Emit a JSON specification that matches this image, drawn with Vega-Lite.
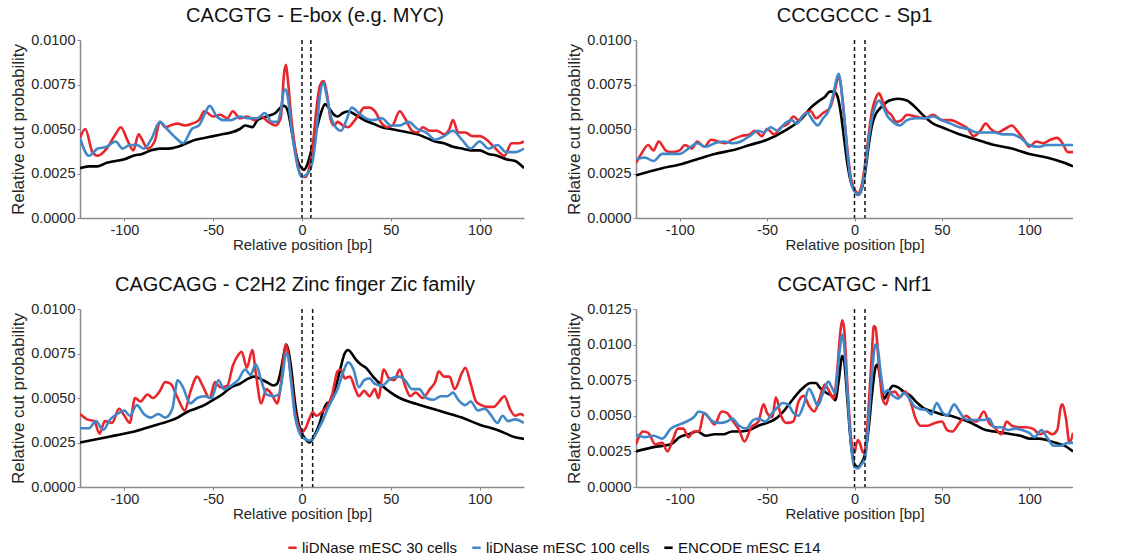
{
  "$schema": "https://vega.github.io/schema/vega-lite/v6.json",
  "background": "white",
  "padding": {"left": 9, "top": 6, "right": 0, "bottom": 0},
  "columns": 2,
  "spacing": {"row": 22, "column": 41},
  "config": {
    "font": "Liberation Sans",
    "locale": {"number": {"decimal": ".", "thousands": ",", "grouping": [3], "currency": ["$", ""], "minus": "-"}},
    "view": {"stroke": null},
    "axis": {
      "grid": false,
      "domainColor": "#8a8a8a",
      "domainWidth": 1.5,
      "tickColor": "#8a8a8a",
      "tickSize": 3,
      "labelFontSize": 14.5,
      "labelColor": "#262626",
      "labelPadding": 2,
      "titleFontSize": 15,
      "titleFontWeight": "normal",
      "titleColor": "#262626"
    },
    "title": {"fontSize": 20, "fontWeight": "normal", "color": "#111111", "offset": 6, "frame": "group"},
    "line": {"strokeWidth": 2.6, "interpolate": "monotone"}
  },
  "datasets": {
    "series": [
      {"k": "r", "sample": "liDNase mESC 30 cells"},
      {"k": "b", "sample": "liDNase mESC 100 cells"},
      {"k": "k", "sample": "ENCODE mESC E14"}
    ],
    "cacgtg": [
      {"k":"k","x":-125,"y":0.0028},{"k":"k","x":-120,"y":0.0029},{"k":"k","x":-115,"y":0.0029},{"k":"k","x":-110,"y":0.0031},{"k":"k","x":-105,"y":0.0032},{"k":"k","x":-100,"y":0.0033},{"k":"k","x":-95,"y":0.0035},{"k":"k","x":-90,"y":0.0036},{"k":"k","x":-85,"y":0.0038},{"k":"k","x":-80,"y":0.0039},{"k":"k","x":-75,"y":0.0039},{"k":"k","x":-70,"y":0.0040},{"k":"k","x":-65,"y":0.0042},{"k":"k","x":-60,"y":0.0044},{"k":"k","x":-55,"y":0.0045},{"k":"k","x":-50,"y":0.0046},{"k":"k","x":-45,"y":0.0047},{"k":"k","x":-40,"y":0.0048},{"k":"k","x":-35,"y":0.0050},{"k":"k","x":-32,"y":0.0052},{"k":"k","x":-28,"y":0.0051},{"k":"k","x":-25,"y":0.0055},{"k":"k","x":-20,"y":0.0057},{"k":"k","x":-15,"y":0.0059},{"k":"k","x":-12,"y":0.0062},{"k":"k","x":-10,"y":0.0063},{"k":"k","x":-8,"y":0.0060},{"k":"k","x":-6,"y":0.0050},{"k":"k","x":-4,"y":0.0039},{"k":"k","x":-2,"y":0.0031},{"k":"k","x":0,"y":0.0028},{"k":"k","x":1,"y":0.0027},{"k":"k","x":3,"y":0.0030},{"k":"k","x":5,"y":0.0037},{"k":"k","x":7,"y":0.0045},{"k":"k","x":9,"y":0.0053},{"k":"k","x":11,"y":0.0060},{"k":"k","x":13,"y":0.0064},{"k":"k","x":15,"y":0.0062},{"k":"k","x":18,"y":0.0058},{"k":"k","x":20,"y":0.0057},{"k":"k","x":23,"y":0.0059},{"k":"k","x":26,"y":0.0060},{"k":"k","x":30,"y":0.0058},{"k":"k","x":35,"y":0.0055},{"k":"k","x":40,"y":0.0053},{"k":"k","x":45,"y":0.0051},{"k":"k","x":50,"y":0.0050},{"k":"k","x":55,"y":0.0049},{"k":"k","x":60,"y":0.0048},{"k":"k","x":65,"y":0.0047},{"k":"k","x":70,"y":0.0045},{"k":"k","x":75,"y":0.0043},{"k":"k","x":80,"y":0.0042},{"k":"k","x":85,"y":0.0040},{"k":"k","x":90,"y":0.0039},{"k":"k","x":95,"y":0.0038},{"k":"k","x":100,"y":0.0038},{"k":"k","x":105,"y":0.0036},{"k":"k","x":110,"y":0.0035},{"k":"k","x":115,"y":0.0033},{"k":"k","x":120,"y":0.0032},{"k":"k","x":125,"y":0.0028},
      {"k":"r","x":-125,"y":0.0045},{"k":"r","x":-122,"y":0.0050},{"k":"r","x":-118,"y":0.0037},{"k":"r","x":-115,"y":0.0035},{"k":"r","x":-110,"y":0.0039},{"k":"r","x":-105,"y":0.0047},{"k":"r","x":-102,"y":0.0051},{"k":"r","x":-98,"y":0.0043},{"k":"r","x":-95,"y":0.0038},{"k":"r","x":-92,"y":0.0047},{"k":"r","x":-90,"y":0.0044},{"k":"r","x":-87,"y":0.0039},{"k":"r","x":-83,"y":0.0043},{"k":"r","x":-80,"y":0.0054},{"k":"r","x":-77,"y":0.0051},{"k":"r","x":-74,"y":0.0052},{"k":"r","x":-70,"y":0.0053},{"k":"r","x":-66,"y":0.0052},{"k":"r","x":-62,"y":0.0053},{"k":"r","x":-58,"y":0.0055},{"k":"r","x":-55,"y":0.0060},{"k":"r","x":-50,"y":0.0057},{"k":"r","x":-46,"y":0.0058},{"k":"r","x":-42,"y":0.0056},{"k":"r","x":-39,"y":0.0060},{"k":"r","x":-35,"y":0.0056},{"k":"r","x":-31,"y":0.0057},{"k":"r","x":-27,"y":0.0055},{"k":"r","x":-23,"y":0.0057},{"k":"r","x":-19,"y":0.0054},{"k":"r","x":-15,"y":0.0052},{"k":"r","x":-12,"y":0.0056},{"k":"r","x":-10,"y":0.0082},{"k":"r","x":-9,"y":0.0086},{"k":"r","x":-8,"y":0.0078},{"k":"r","x":-6,"y":0.0056},{"k":"r","x":-4,"y":0.0040},{"k":"r","x":-2,"y":0.0028},{"k":"r","x":0,"y":0.0023},{"k":"r","x":2,"y":0.0023},{"k":"r","x":4,"y":0.0028},{"k":"r","x":6,"y":0.0040},{"k":"r","x":8,"y":0.0060},{"k":"r","x":10,"y":0.0074},{"k":"r","x":12,"y":0.0077},{"k":"r","x":14,"y":0.0070},{"k":"r","x":16,"y":0.0056},{"k":"r","x":18,"y":0.0052},{"k":"r","x":20,"y":0.0054},{"k":"r","x":23,"y":0.0052},{"k":"r","x":26,"y":0.0051},{"k":"r","x":29,"y":0.0054},{"k":"r","x":32,"y":0.0058},{"k":"r","x":35,"y":0.0062},{"k":"r","x":38,"y":0.0062},{"k":"r","x":41,"y":0.0060},{"k":"r","x":45,"y":0.0053},{"k":"r","x":48,"y":0.0051},{"k":"r","x":51,"y":0.0052},{"k":"r","x":55,"y":0.0060},{"k":"r","x":58,"y":0.0056},{"k":"r","x":62,"y":0.0049},{"k":"r","x":65,"y":0.0048},{"k":"r","x":68,"y":0.0051},{"k":"r","x":72,"y":0.0049},{"k":"r","x":76,"y":0.0049},{"k":"r","x":80,"y":0.0047},{"k":"r","x":83,"y":0.0050},{"k":"r","x":85,"y":0.0055},{"k":"r","x":88,"y":0.0048},{"k":"r","x":92,"y":0.0048},{"k":"r","x":96,"y":0.0046},{"k":"r","x":100,"y":0.0046},{"k":"r","x":104,"y":0.0044},{"k":"r","x":108,"y":0.0040},{"k":"r","x":111,"y":0.0037},{"k":"r","x":114,"y":0.0035},{"k":"r","x":118,"y":0.0042},{"k":"r","x":122,"y":0.0042},{"k":"r","x":125,"y":0.0043},
      {"k":"b","x":-125,"y":0.0045},{"k":"b","x":-120,"y":0.0035},{"k":"b","x":-115,"y":0.0039},{"k":"b","x":-110,"y":0.0040},{"k":"b","x":-105,"y":0.0043},{"k":"b","x":-101,"y":0.0039},{"k":"b","x":-97,"y":0.0041},{"k":"b","x":-93,"y":0.0041},{"k":"b","x":-89,"y":0.0039},{"k":"b","x":-85,"y":0.0044},{"k":"b","x":-80,"y":0.0054},{"k":"b","x":-76,"y":0.0050},{"k":"b","x":-71,"y":0.0045},{"k":"b","x":-67,"y":0.0042},{"k":"b","x":-62,"y":0.0050},{"k":"b","x":-58,"y":0.0052},{"k":"b","x":-55,"y":0.0058},{"k":"b","x":-52,"y":0.0063},{"k":"b","x":-48,"y":0.0057},{"k":"b","x":-44,"y":0.0055},{"k":"b","x":-40,"y":0.0055},{"k":"b","x":-35,"y":0.0057},{"k":"b","x":-30,"y":0.0056},{"k":"b","x":-25,"y":0.0056},{"k":"b","x":-21,"y":0.0059},{"k":"b","x":-17,"y":0.0054},{"k":"b","x":-14,"y":0.0054},{"k":"b","x":-12,"y":0.0060},{"k":"b","x":-10,"y":0.0072},{"k":"b","x":-9,"y":0.0072},{"k":"b","x":-8,"y":0.0068},{"k":"b","x":-6,"y":0.0051},{"k":"b","x":-4,"y":0.0037},{"k":"b","x":-2,"y":0.0027},{"k":"b","x":0,"y":0.0023},{"k":"b","x":2,"y":0.0024},{"k":"b","x":4,"y":0.0026},{"k":"b","x":6,"y":0.0032},{"k":"b","x":8,"y":0.0047},{"k":"b","x":10,"y":0.0068},{"k":"b","x":12,"y":0.0076},{"k":"b","x":14,"y":0.0068},{"k":"b","x":16,"y":0.0058},{"k":"b","x":19,"y":0.0051},{"k":"b","x":22,"y":0.0049},{"k":"b","x":25,"y":0.0055},{"k":"b","x":28,"y":0.0062},{"k":"b","x":32,"y":0.0059},{"k":"b","x":36,"y":0.0056},{"k":"b","x":40,"y":0.0055},{"k":"b","x":45,"y":0.0056},{"k":"b","x":50,"y":0.0052},{"k":"b","x":55,"y":0.0052},{"k":"b","x":60,"y":0.0054},{"k":"b","x":65,"y":0.0050},{"k":"b","x":70,"y":0.0048},{"k":"b","x":75,"y":0.0044},{"k":"b","x":80,"y":0.0046},{"k":"b","x":85,"y":0.0049},{"k":"b","x":90,"y":0.0044},{"k":"b","x":95,"y":0.0039},{"k":"b","x":100,"y":0.0043},{"k":"b","x":105,"y":0.0039},{"k":"b","x":110,"y":0.0041},{"k":"b","x":115,"y":0.0037},{"k":"b","x":120,"y":0.0037},{"k":"b","x":125,"y":0.0039}
    ],
    "cccgccc": [
      {"k":"k","x":-125,"y":0.0024},{"k":"k","x":-110,"y":0.0028},{"k":"k","x":-100,"y":0.0030},{"k":"k","x":-90,"y":0.0033},{"k":"k","x":-80,"y":0.0036},{"k":"k","x":-70,"y":0.0038},{"k":"k","x":-60,"y":0.0041},{"k":"k","x":-50,"y":0.0044},{"k":"k","x":-40,"y":0.0049},{"k":"k","x":-30,"y":0.0056},{"k":"k","x":-25,"y":0.0062},{"k":"k","x":-20,"y":0.0066},{"k":"k","x":-17,"y":0.0068},{"k":"k","x":-14,"y":0.0071},{"k":"k","x":-12,"y":0.0071},{"k":"k","x":-10,"y":0.0069},{"k":"k","x":-8,"y":0.0060},{"k":"k","x":-6,"y":0.0045},{"k":"k","x":-4,"y":0.0030},{"k":"k","x":-2,"y":0.0020},{"k":"k","x":0,"y":0.0016},{"k":"k","x":2,"y":0.0013},{"k":"k","x":4,"y":0.0016},{"k":"k","x":6,"y":0.0025},{"k":"k","x":8,"y":0.0040},{"k":"k","x":10,"y":0.0052},{"k":"k","x":12,"y":0.0058},{"k":"k","x":15,"y":0.0062},{"k":"k","x":20,"y":0.0066},{"k":"k","x":25,"y":0.0067},{"k":"k","x":30,"y":0.0066},{"k":"k","x":35,"y":0.0062},{"k":"k","x":40,"y":0.0057},{"k":"k","x":45,"y":0.0053},{"k":"k","x":50,"y":0.0051},{"k":"k","x":60,"y":0.0047},{"k":"k","x":70,"y":0.0044},{"k":"k","x":80,"y":0.0041},{"k":"k","x":90,"y":0.0039},{"k":"k","x":100,"y":0.0036},{"k":"k","x":110,"y":0.0034},{"k":"k","x":120,"y":0.0031},{"k":"k","x":125,"y":0.0029},
      {"k":"r","x":-125,"y":0.0031},{"k":"r","x":-122,"y":0.0036},{"k":"r","x":-118,"y":0.0041},{"k":"r","x":-115,"y":0.0038},{"k":"r","x":-112,"y":0.0043},{"k":"r","x":-108,"y":0.0038},{"k":"r","x":-105,"y":0.0037},{"k":"r","x":-100,"y":0.0038},{"k":"r","x":-97,"y":0.0041},{"k":"r","x":-93,"y":0.0039},{"k":"r","x":-90,"y":0.0043},{"k":"r","x":-86,"y":0.0040},{"k":"r","x":-82,"y":0.0044},{"k":"r","x":-78,"y":0.0043},{"k":"r","x":-74,"y":0.0042},{"k":"r","x":-70,"y":0.0044},{"k":"r","x":-65,"y":0.0046},{"k":"r","x":-60,"y":0.0047},{"k":"r","x":-57,"y":0.0049},{"k":"r","x":-53,"y":0.0046},{"k":"r","x":-50,"y":0.0050},{"k":"r","x":-46,"y":0.0047},{"k":"r","x":-42,"y":0.0051},{"k":"r","x":-38,"y":0.0053},{"k":"r","x":-35,"y":0.0057},{"k":"r","x":-32,"y":0.0055},{"k":"r","x":-28,"y":0.0059},{"k":"r","x":-25,"y":0.0060},{"k":"r","x":-22,"y":0.0056},{"k":"r","x":-18,"y":0.0059},{"k":"r","x":-14,"y":0.0062},{"k":"r","x":-12,"y":0.0068},{"k":"r","x":-10,"y":0.0077},{"k":"r","x":-9,"y":0.0080},{"k":"r","x":-8,"y":0.0076},{"k":"r","x":-6,"y":0.0058},{"k":"r","x":-4,"y":0.0038},{"k":"r","x":-2,"y":0.0022},{"k":"r","x":0,"y":0.0016},{"k":"r","x":2,"y":0.0014},{"k":"r","x":4,"y":0.0018},{"k":"r","x":6,"y":0.0030},{"k":"r","x":8,"y":0.0046},{"k":"r","x":10,"y":0.0060},{"k":"r","x":12,"y":0.0067},{"k":"r","x":14,"y":0.0070},{"k":"r","x":16,"y":0.0066},{"k":"r","x":18,"y":0.0061},{"k":"r","x":21,"y":0.0058},{"k":"r","x":24,"y":0.0054},{"k":"r","x":27,"y":0.0055},{"k":"r","x":30,"y":0.0058},{"k":"r","x":35,"y":0.0057},{"k":"r","x":40,"y":0.0056},{"k":"r","x":45,"y":0.0058},{"k":"r","x":50,"y":0.0055},{"k":"r","x":55,"y":0.0055},{"k":"r","x":60,"y":0.0053},{"k":"r","x":65,"y":0.0050},{"k":"r","x":68,"y":0.0046},{"k":"r","x":72,"y":0.0049},{"k":"r","x":75,"y":0.0053},{"k":"r","x":78,"y":0.0050},{"k":"r","x":82,"y":0.0048},{"k":"r","x":86,"y":0.0050},{"k":"r","x":90,"y":0.0052},{"k":"r","x":93,"y":0.0049},{"k":"r","x":97,"y":0.0044},{"k":"r","x":100,"y":0.0040},{"k":"r","x":104,"y":0.0043},{"k":"r","x":108,"y":0.0042},{"k":"r","x":112,"y":0.0044},{"k":"r","x":116,"y":0.0045},{"k":"r","x":119,"y":0.0042},{"k":"r","x":122,"y":0.0037},{"k":"r","x":125,"y":0.0037},
      {"k":"b","x":-125,"y":0.0033},{"k":"b","x":-120,"y":0.0034},{"k":"b","x":-115,"y":0.0032},{"k":"b","x":-110,"y":0.0036},{"k":"b","x":-105,"y":0.0036},{"k":"b","x":-100,"y":0.0036},{"k":"b","x":-95,"y":0.0039},{"k":"b","x":-90,"y":0.0042},{"k":"b","x":-85,"y":0.0040},{"k":"b","x":-80,"y":0.0042},{"k":"b","x":-75,"y":0.0043},{"k":"b","x":-70,"y":0.0042},{"k":"b","x":-65,"y":0.0043},{"k":"b","x":-60,"y":0.0046},{"k":"b","x":-55,"y":0.0049},{"k":"b","x":-52,"y":0.0048},{"k":"b","x":-48,"y":0.0051},{"k":"b","x":-44,"y":0.0049},{"k":"b","x":-40,"y":0.0053},{"k":"b","x":-36,"y":0.0055},{"k":"b","x":-33,"y":0.0053},{"k":"b","x":-30,"y":0.0057},{"k":"b","x":-27,"y":0.0059},{"k":"b","x":-24,"y":0.0055},{"k":"b","x":-21,"y":0.0052},{"k":"b","x":-18,"y":0.0056},{"k":"b","x":-15,"y":0.0060},{"k":"b","x":-12,"y":0.0070},{"k":"b","x":-10,"y":0.0079},{"k":"b","x":-9,"y":0.0081},{"k":"b","x":-8,"y":0.0076},{"k":"b","x":-6,"y":0.0058},{"k":"b","x":-4,"y":0.0036},{"k":"b","x":-2,"y":0.0020},{"k":"b","x":0,"y":0.0015},{"k":"b","x":2,"y":0.0013},{"k":"b","x":4,"y":0.0016},{"k":"b","x":6,"y":0.0027},{"k":"b","x":8,"y":0.0043},{"k":"b","x":10,"y":0.0056},{"k":"b","x":12,"y":0.0063},{"k":"b","x":14,"y":0.0066},{"k":"b","x":16,"y":0.0063},{"k":"b","x":19,"y":0.0057},{"k":"b","x":22,"y":0.0054},{"k":"b","x":26,"y":0.0052},{"k":"b","x":30,"y":0.0055},{"k":"b","x":35,"y":0.0056},{"k":"b","x":40,"y":0.0056},{"k":"b","x":45,"y":0.0057},{"k":"b","x":50,"y":0.0055},{"k":"b","x":55,"y":0.0053},{"k":"b","x":60,"y":0.0051},{"k":"b","x":65,"y":0.0050},{"k":"b","x":70,"y":0.0048},{"k":"b","x":75,"y":0.0048},{"k":"b","x":80,"y":0.0048},{"k":"b","x":85,"y":0.0047},{"k":"b","x":90,"y":0.0047},{"k":"b","x":95,"y":0.0045},{"k":"b","x":100,"y":0.0041},{"k":"b","x":105,"y":0.0040},{"k":"b","x":110,"y":0.0041},{"k":"b","x":115,"y":0.0041},{"k":"b","x":120,"y":0.0041},{"k":"b","x":125,"y":0.0041}
    ],
    "cagcagg": [
      {"k":"k","x":-125,"y":0.0025},{"k":"k","x":-115,"y":0.0027},{"k":"k","x":-105,"y":0.0029},{"k":"k","x":-95,"y":0.0031},{"k":"k","x":-85,"y":0.0034},{"k":"k","x":-75,"y":0.0037},{"k":"k","x":-70,"y":0.0039},{"k":"k","x":-65,"y":0.0042},{"k":"k","x":-60,"y":0.0044},{"k":"k","x":-55,"y":0.0046},{"k":"k","x":-50,"y":0.0049},{"k":"k","x":-45,"y":0.0052},{"k":"k","x":-40,"y":0.0056},{"k":"k","x":-35,"y":0.0058},{"k":"k","x":-30,"y":0.0061},{"k":"k","x":-27,"y":0.0062},{"k":"k","x":-24,"y":0.0061},{"k":"k","x":-20,"y":0.0059},{"k":"k","x":-16,"y":0.0057},{"k":"k","x":-14,"y":0.0058},{"k":"k","x":-12,"y":0.0065},{"k":"k","x":-10,"y":0.0076},{"k":"k","x":-9,"y":0.0080},{"k":"k","x":-8,"y":0.0078},{"k":"k","x":-6,"y":0.0066},{"k":"k","x":-4,"y":0.0048},{"k":"k","x":-2,"y":0.0036},{"k":"k","x":0,"y":0.0030},{"k":"k","x":2,"y":0.0027},{"k":"k","x":4,"y":0.0025},{"k":"k","x":6,"y":0.0027},{"k":"k","x":8,"y":0.0031},{"k":"k","x":10,"y":0.0036},{"k":"k","x":12,"y":0.0043},{"k":"k","x":14,"y":0.0047},{"k":"k","x":16,"y":0.0048},{"k":"k","x":18,"y":0.0053},{"k":"k","x":20,"y":0.0060},{"k":"k","x":22,"y":0.0068},{"k":"k","x":24,"y":0.0075},{"k":"k","x":26,"y":0.0077},{"k":"k","x":28,"y":0.0075},{"k":"k","x":30,"y":0.0072},{"k":"k","x":33,"y":0.0069},{"k":"k","x":36,"y":0.0067},{"k":"k","x":40,"y":0.0062},{"k":"k","x":45,"y":0.0057},{"k":"k","x":50,"y":0.0053},{"k":"k","x":55,"y":0.0050},{"k":"k","x":60,"y":0.0048},{"k":"k","x":70,"y":0.0045},{"k":"k","x":80,"y":0.0042},{"k":"k","x":90,"y":0.0039},{"k":"k","x":100,"y":0.0035},{"k":"k","x":110,"y":0.0032},{"k":"k","x":120,"y":0.0028},{"k":"k","x":125,"y":0.0027},
      {"k":"r","x":-125,"y":0.0041},{"k":"r","x":-121,"y":0.0038},{"k":"r","x":-117,"y":0.0037},{"k":"r","x":-114,"y":0.0030},{"k":"r","x":-111,"y":0.0037},{"k":"r","x":-107,"y":0.0036},{"k":"r","x":-103,"y":0.0044},{"k":"r","x":-100,"y":0.0040},{"k":"r","x":-97,"y":0.0036},{"k":"r","x":-94,"y":0.0050},{"k":"r","x":-91,"y":0.0048},{"k":"r","x":-87,"y":0.0052},{"k":"r","x":-84,"y":0.0050},{"k":"r","x":-80,"y":0.0054},{"k":"r","x":-77,"y":0.0059},{"k":"r","x":-74,"y":0.0058},{"k":"r","x":-70,"y":0.0050},{"k":"r","x":-66,"y":0.0043},{"k":"r","x":-63,"y":0.0053},{"k":"r","x":-59,"y":0.0062},{"k":"r","x":-56,"y":0.0057},{"k":"r","x":-52,"y":0.0050},{"k":"r","x":-49,"y":0.0059},{"k":"r","x":-46,"y":0.0056},{"k":"r","x":-42,"y":0.0057},{"k":"r","x":-39,"y":0.0068},{"k":"r","x":-36,"y":0.0074},{"k":"r","x":-34,"y":0.0076},{"k":"r","x":-31,"y":0.0067},{"k":"r","x":-28,"y":0.0077},{"k":"r","x":-26,"y":0.0064},{"k":"r","x":-23,"y":0.0047},{"k":"r","x":-20,"y":0.0055},{"k":"r","x":-17,"y":0.0052},{"k":"r","x":-14,"y":0.0047},{"k":"r","x":-12,"y":0.0057},{"k":"r","x":-10,"y":0.0075},{"k":"r","x":-9,"y":0.0080},{"k":"r","x":-8,"y":0.0076},{"k":"r","x":-6,"y":0.0060},{"k":"r","x":-4,"y":0.0043},{"k":"r","x":-2,"y":0.0034},{"k":"r","x":0,"y":0.0031},{"k":"r","x":2,"y":0.0033},{"k":"r","x":4,"y":0.0038},{"k":"r","x":6,"y":0.0042},{"k":"r","x":8,"y":0.0040},{"k":"r","x":10,"y":0.0041},{"k":"r","x":12,"y":0.0043},{"k":"r","x":14,"y":0.0045},{"k":"r","x":17,"y":0.0052},{"k":"r","x":20,"y":0.0065},{"k":"r","x":22,"y":0.0066},{"k":"r","x":24,"y":0.0061},{"k":"r","x":27,"y":0.0062},{"k":"r","x":30,"y":0.0055},{"k":"r","x":32,"y":0.0051},{"k":"r","x":35,"y":0.0054},{"k":"r","x":38,"y":0.0051},{"k":"r","x":41,"y":0.0055},{"k":"r","x":43,"y":0.0050},{"k":"r","x":46,"y":0.0066},{"k":"r","x":49,"y":0.0061},{"k":"r","x":52,"y":0.0060},{"k":"r","x":55,"y":0.0066},{"k":"r","x":58,"y":0.0057},{"k":"r","x":61,"y":0.0051},{"k":"r","x":64,"y":0.0053},{"k":"r","x":68,"y":0.0050},{"k":"r","x":72,"y":0.0055},{"k":"r","x":75,"y":0.0059},{"k":"r","x":77,"y":0.0065},{"k":"r","x":80,"y":0.0062},{"k":"r","x":83,"y":0.0062},{"k":"r","x":86,"y":0.0055},{"k":"r","x":90,"y":0.0064},{"k":"r","x":92,"y":0.0067},{"k":"r","x":95,"y":0.0058},{"k":"r","x":98,"y":0.0048},{"k":"r","x":101,"y":0.0046},{"k":"r","x":104,"y":0.0045},{"k":"r","x":108,"y":0.0045},{"k":"r","x":111,"y":0.0048},{"k":"r","x":114,"y":0.0051},{"k":"r","x":117,"y":0.0044},{"k":"r","x":120,"y":0.0040},{"k":"r","x":123,"y":0.0041},{"k":"r","x":125,"y":0.0040},
      {"k":"b","x":-125,"y":0.0033},{"k":"b","x":-120,"y":0.0033},{"k":"b","x":-116,"y":0.0037},{"k":"b","x":-112,"y":0.0032},{"k":"b","x":-108,"y":0.0038},{"k":"b","x":-104,"y":0.0041},{"k":"b","x":-100,"y":0.0043},{"k":"b","x":-97,"y":0.0040},{"k":"b","x":-93,"y":0.0046},{"k":"b","x":-89,"y":0.0041},{"k":"b","x":-85,"y":0.0039},{"k":"b","x":-81,"y":0.0041},{"k":"b","x":-77,"y":0.0039},{"k":"b","x":-73,"y":0.0044},{"k":"b","x":-70,"y":0.0060},{"k":"b","x":-67,"y":0.0056},{"k":"b","x":-63,"y":0.0047},{"k":"b","x":-59,"y":0.0050},{"k":"b","x":-55,"y":0.0051},{"k":"b","x":-51,"y":0.0050},{"k":"b","x":-47,"y":0.0060},{"k":"b","x":-44,"y":0.0055},{"k":"b","x":-40,"y":0.0057},{"k":"b","x":-36,"y":0.0060},{"k":"b","x":-32,"y":0.0066},{"k":"b","x":-29,"y":0.0063},{"k":"b","x":-26,"y":0.0069},{"k":"b","x":-23,"y":0.0060},{"k":"b","x":-20,"y":0.0052},{"k":"b","x":-16,"y":0.0051},{"k":"b","x":-13,"y":0.0052},{"k":"b","x":-11,"y":0.0062},{"k":"b","x":-9,"y":0.0075},{"k":"b","x":-8,"y":0.0074},{"k":"b","x":-6,"y":0.0058},{"k":"b","x":-4,"y":0.0040},{"k":"b","x":-2,"y":0.0032},{"k":"b","x":0,"y":0.0028},{"k":"b","x":2,"y":0.0027},{"k":"b","x":4,"y":0.0026},{"k":"b","x":6,"y":0.0027},{"k":"b","x":8,"y":0.0030},{"k":"b","x":10,"y":0.0034},{"k":"b","x":12,"y":0.0038},{"k":"b","x":14,"y":0.0043},{"k":"b","x":17,"y":0.0049},{"k":"b","x":20,"y":0.0055},{"k":"b","x":23,"y":0.0064},{"k":"b","x":26,"y":0.0070},{"k":"b","x":29,"y":0.0066},{"k":"b","x":32,"y":0.0056},{"k":"b","x":35,"y":0.0060},{"k":"b","x":38,"y":0.0061},{"k":"b","x":41,"y":0.0058},{"k":"b","x":45,"y":0.0057},{"k":"b","x":50,"y":0.0061},{"k":"b","x":55,"y":0.0062},{"k":"b","x":58,"y":0.0060},{"k":"b","x":62,"y":0.0055},{"k":"b","x":66,"y":0.0055},{"k":"b","x":70,"y":0.0050},{"k":"b","x":74,"y":0.0049},{"k":"b","x":78,"y":0.0051},{"k":"b","x":82,"y":0.0051},{"k":"b","x":85,"y":0.0053},{"k":"b","x":88,"y":0.0049},{"k":"b","x":92,"y":0.0046},{"k":"b","x":95,"y":0.0048},{"k":"b","x":99,"y":0.0043},{"k":"b","x":103,"y":0.0044},{"k":"b","x":106,"y":0.0041},{"k":"b","x":110,"y":0.0036},{"k":"b","x":113,"y":0.0040},{"k":"b","x":116,"y":0.0037},{"k":"b","x":120,"y":0.0038},{"k":"b","x":125,"y":0.0036}
    ],
    "cgcatgc": [
      {"k":"k","x":-125,"y":0.0025},{"k":"k","x":-115,"y":0.0028},{"k":"k","x":-105,"y":0.0030},{"k":"k","x":-100,"y":0.0035},{"k":"k","x":-95,"y":0.0037},{"k":"k","x":-90,"y":0.0039},{"k":"k","x":-85,"y":0.0036},{"k":"k","x":-80,"y":0.0037},{"k":"k","x":-75,"y":0.0037},{"k":"k","x":-70,"y":0.0039},{"k":"k","x":-65,"y":0.0039},{"k":"k","x":-60,"y":0.0040},{"k":"k","x":-55,"y":0.0043},{"k":"k","x":-50,"y":0.0045},{"k":"k","x":-45,"y":0.0048},{"k":"k","x":-40,"y":0.0054},{"k":"k","x":-35,"y":0.0062},{"k":"k","x":-30,"y":0.0069},{"k":"k","x":-25,"y":0.0073},{"k":"k","x":-22,"y":0.0073},{"k":"k","x":-20,"y":0.0070},{"k":"k","x":-16,"y":0.0066},{"k":"k","x":-13,"y":0.0064},{"k":"k","x":-11,"y":0.0061},{"k":"k","x":-9,"y":0.0075},{"k":"k","x":-7,"y":0.0092},{"k":"k","x":-6,"y":0.0089},{"k":"k","x":-4,"y":0.0060},{"k":"k","x":-2,"y":0.0030},{"k":"k","x":0,"y":0.0016},{"k":"k","x":2,"y":0.0014},{"k":"k","x":4,"y":0.0017},{"k":"k","x":6,"y":0.0023},{"k":"k","x":8,"y":0.0040},{"k":"k","x":10,"y":0.0065},{"k":"k","x":12,"y":0.0084},{"k":"k","x":13,"y":0.0086},{"k":"k","x":15,"y":0.0075},{"k":"k","x":17,"y":0.0062},{"k":"k","x":19,"y":0.0066},{"k":"k","x":22,"y":0.0071},{"k":"k","x":25,"y":0.0070},{"k":"k","x":28,"y":0.0067},{"k":"k","x":32,"y":0.0064},{"k":"k","x":36,"y":0.0059},{"k":"k","x":40,"y":0.0055},{"k":"k","x":45,"y":0.0053},{"k":"k","x":50,"y":0.0051},{"k":"k","x":55,"y":0.0050},{"k":"k","x":60,"y":0.0048},{"k":"k","x":65,"y":0.0046},{"k":"k","x":70,"y":0.0043},{"k":"k","x":75,"y":0.0040},{"k":"k","x":80,"y":0.0039},{"k":"k","x":85,"y":0.0038},{"k":"k","x":90,"y":0.0037},{"k":"k","x":95,"y":0.0036},{"k":"k","x":100,"y":0.0034},{"k":"k","x":105,"y":0.0034},{"k":"k","x":110,"y":0.0033},{"k":"k","x":115,"y":0.0031},{"k":"k","x":120,"y":0.0029},{"k":"k","x":125,"y":0.0025},
      {"k":"r","x":-125,"y":0.0030},{"k":"r","x":-121,"y":0.0039},{"k":"r","x":-118,"y":0.0038},{"k":"r","x":-114,"y":0.0030},{"k":"r","x":-110,"y":0.0031},{"k":"r","x":-107,"y":0.0025},{"k":"r","x":-104,"y":0.0033},{"k":"r","x":-101,"y":0.0041},{"k":"r","x":-98,"y":0.0041},{"k":"r","x":-95,"y":0.0035},{"k":"r","x":-92,"y":0.0039},{"k":"r","x":-89,"y":0.0039},{"k":"r","x":-86,"y":0.0052},{"k":"r","x":-83,"y":0.0048},{"k":"r","x":-80,"y":0.0044},{"k":"r","x":-76,"y":0.0053},{"k":"r","x":-73,"y":0.0052},{"k":"r","x":-70,"y":0.0047},{"k":"r","x":-66,"y":0.0040},{"k":"r","x":-63,"y":0.0032},{"k":"r","x":-59,"y":0.0042},{"k":"r","x":-55,"y":0.0046},{"k":"r","x":-52,"y":0.0058},{"k":"r","x":-50,"y":0.0052},{"k":"r","x":-47,"y":0.0049},{"k":"r","x":-45,"y":0.0063},{"k":"r","x":-42,"y":0.0050},{"k":"r","x":-39,"y":0.0045},{"k":"r","x":-35,"y":0.0046},{"k":"r","x":-32,"y":0.0060},{"k":"r","x":-29,"y":0.0064},{"k":"r","x":-26,"y":0.0057},{"k":"r","x":-23,"y":0.0053},{"k":"r","x":-20,"y":0.0062},{"k":"r","x":-17,"y":0.0072},{"k":"r","x":-14,"y":0.0066},{"k":"r","x":-12,"y":0.0062},{"k":"r","x":-10,"y":0.0080},{"k":"r","x":-8,"y":0.0110},{"k":"r","x":-7,"y":0.0117},{"k":"r","x":-6,"y":0.0112},{"k":"r","x":-4,"y":0.0070},{"k":"r","x":-2,"y":0.0035},{"k":"r","x":0,"y":0.0024},{"k":"r","x":1,"y":0.0030},{"k":"r","x":2,"y":0.0033},{"k":"r","x":3,"y":0.0031},{"k":"r","x":5,"y":0.0024},{"k":"r","x":6,"y":0.0026},{"k":"r","x":8,"y":0.0055},{"k":"r","x":10,"y":0.0095},{"k":"r","x":11,"y":0.0113},{"k":"r","x":12,"y":0.0112},{"k":"r","x":14,"y":0.0085},{"k":"r","x":16,"y":0.0062},{"k":"r","x":18,"y":0.0058},{"k":"r","x":20,"y":0.0065},{"k":"r","x":23,"y":0.0067},{"k":"r","x":26,"y":0.0063},{"k":"r","x":29,"y":0.0067},{"k":"r","x":32,"y":0.0060},{"k":"r","x":35,"y":0.0048},{"k":"r","x":38,"y":0.0043},{"k":"r","x":42,"y":0.0043},{"k":"r","x":46,"y":0.0045},{"k":"r","x":50,"y":0.0046},{"k":"r","x":53,"y":0.0040},{"k":"r","x":56,"y":0.0039},{"k":"r","x":60,"y":0.0045},{"k":"r","x":64,"y":0.0050},{"k":"r","x":67,"y":0.0047},{"k":"r","x":70,"y":0.0046},{"k":"r","x":74,"y":0.0053},{"k":"r","x":77,"y":0.0045},{"k":"r","x":80,"y":0.0042},{"k":"r","x":84,"y":0.0037},{"k":"r","x":87,"y":0.0046},{"k":"r","x":90,"y":0.0043},{"k":"r","x":94,"y":0.0042},{"k":"r","x":98,"y":0.0042},{"k":"r","x":102,"y":0.0041},{"k":"r","x":106,"y":0.0037},{"k":"r","x":110,"y":0.0039},{"k":"r","x":113,"y":0.0037},{"k":"r","x":116,"y":0.0040},{"k":"r","x":118,"y":0.0056},{"k":"r","x":119,"y":0.0058},{"k":"r","x":121,"y":0.0048},{"k":"r","x":123,"y":0.0031},{"k":"r","x":125,"y":0.0038},
      {"k":"b","x":-125,"y":0.0037},{"k":"b","x":-120,"y":0.0035},{"k":"b","x":-115,"y":0.0036},{"k":"b","x":-110,"y":0.0034},{"k":"b","x":-105,"y":0.0041},{"k":"b","x":-100,"y":0.0044},{"k":"b","x":-96,"y":0.0046},{"k":"b","x":-92,"y":0.0049},{"k":"b","x":-89,"y":0.0053},{"k":"b","x":-85,"y":0.0051},{"k":"b","x":-81,"y":0.0046},{"k":"b","x":-77,"y":0.0045},{"k":"b","x":-73,"y":0.0046},{"k":"b","x":-70,"y":0.0048},{"k":"b","x":-66,"y":0.0043},{"k":"b","x":-62,"y":0.0041},{"k":"b","x":-58,"y":0.0047},{"k":"b","x":-55,"y":0.0048},{"k":"b","x":-51,"y":0.0046},{"k":"b","x":-47,"y":0.0052},{"k":"b","x":-44,"y":0.0056},{"k":"b","x":-41,"y":0.0059},{"k":"b","x":-38,"y":0.0058},{"k":"b","x":-35,"y":0.0052},{"k":"b","x":-32,"y":0.0050},{"k":"b","x":-29,"y":0.0058},{"k":"b","x":-26,"y":0.0069},{"k":"b","x":-24,"y":0.0065},{"k":"b","x":-21,"y":0.0057},{"k":"b","x":-18,"y":0.0066},{"k":"b","x":-15,"y":0.0074},{"k":"b","x":-13,"y":0.0070},{"k":"b","x":-11,"y":0.0066},{"k":"b","x":-9,"y":0.0090},{"k":"b","x":-7,"y":0.0107},{"k":"b","x":-6,"y":0.0100},{"k":"b","x":-4,"y":0.0065},{"k":"b","x":-2,"y":0.0030},{"k":"b","x":0,"y":0.0014},{"k":"b","x":2,"y":0.0013},{"k":"b","x":4,"y":0.0016},{"k":"b","x":6,"y":0.0020},{"k":"b","x":8,"y":0.0045},{"k":"b","x":10,"y":0.0080},{"k":"b","x":12,"y":0.0100},{"k":"b","x":13,"y":0.0099},{"k":"b","x":15,"y":0.0080},{"k":"b","x":17,"y":0.0066},{"k":"b","x":19,"y":0.0068},{"k":"b","x":22,"y":0.0064},{"k":"b","x":25,"y":0.0062},{"k":"b","x":28,"y":0.0066},{"k":"b","x":31,"y":0.0063},{"k":"b","x":34,"y":0.0057},{"k":"b","x":37,"y":0.0055},{"k":"b","x":41,"y":0.0054},{"k":"b","x":44,"y":0.0051},{"k":"b","x":47,"y":0.0059},{"k":"b","x":50,"y":0.0053},{"k":"b","x":53,"y":0.0050},{"k":"b","x":57,"y":0.0058},{"k":"b","x":60,"y":0.0053},{"k":"b","x":63,"y":0.0048},{"k":"b","x":66,"y":0.0047},{"k":"b","x":70,"y":0.0047},{"k":"b","x":74,"y":0.0047},{"k":"b","x":77,"y":0.0048},{"k":"b","x":80,"y":0.0042},{"k":"b","x":84,"y":0.0042},{"k":"b","x":88,"y":0.0040},{"k":"b","x":92,"y":0.0041},{"k":"b","x":96,"y":0.0040},{"k":"b","x":100,"y":0.0038},{"k":"b","x":103,"y":0.0035},{"k":"b","x":107,"y":0.0040},{"k":"b","x":110,"y":0.0035},{"k":"b","x":114,"y":0.0029},{"k":"b","x":118,"y":0.0029},{"k":"b","x":122,"y":0.0031},{"k":"b","x":125,"y":0.0031}
    ]
  },
  "concat": [
    {
      "width": 444, "height": 178,
      "title": {"text": "CACGTG - E-box (e.g. MYC)", "dx": 13},
      "layer": [
        {
          "data": {"name": "cacgtg"},
          "transform": [{"lookup": "k", "from": {"data": {"name": "series"}, "key": "k", "fields": ["sample"]}}],
          "mark": {"type": "line", "clip": true},
          "encoding": {
            "x": {"field": "x", "type": "quantitative", "scale": {"domain": [-125, 125], "nice": false}, "axis": {"title": "Relative position [bp]", "values": [-100, -50, 0, 50, 100], "titlePadding": 1}},
            "y": {"field": "y", "type": "quantitative", "scale": {"domain": [0, 0.01], "nice": false}, "axis": {"title": "Relative cut probability", "values": [0, 0.0025, 0.005, 0.0075, 0.01], "format": ".4f", "titleFontSize": 17, "titlePadding": 3}},
            "color": {"field": "sample", "type": "nominal", "scale": {"domain": ["liDNase mESC 30 cells", "liDNase mESC 100 cells", "ENCODE mESC E14"], "range": ["#e8262b", "#3f87c8", "#000000"]},
              "legend": {"title": null, "orient": "none", "legendX": 205, "legendY": 500, "direction": "horizontal", "symbolType": "stroke", "symbolStrokeWidth": 3, "symbolSize": 70, "labelFontSize": 15, "labelLimit": 400, "labelColor": "#111111", "columnPadding": 9, "labelOffset": 2}}
          }
        },
        {
          "data": {"values": [{"x": 0}, {"x": 5}]},
          "mark": {"type": "rule", "strokeDash": [4, 3], "strokeWidth": 1.5, "color": "#111111"},
          "encoding": {"x": {"field": "x", "type": "quantitative"}}
        }
      ]
    },
    {
      "width": 437, "height": 178,
      "title": {"text": "CCCGCCC - Sp1"},
      "layer": [
        {
          "data": {"name": "cccgccc"},
          "transform": [{"lookup": "k", "from": {"data": {"name": "series"}, "key": "k", "fields": ["sample"]}}],
          "mark": {"type": "line", "clip": true},
          "encoding": {
            "x": {"field": "x", "type": "quantitative", "scale": {"domain": [-125, 125], "nice": false}, "axis": {"title": "Relative position [bp]", "values": [-100, -50, 0, 50, 100], "titlePadding": 1}},
            "y": {"field": "y", "type": "quantitative", "scale": {"domain": [0, 0.01], "nice": false}, "axis": {"title": "Relative cut probability", "values": [0, 0.0025, 0.005, 0.0075, 0.01], "format": ".4f", "titleFontSize": 17, "titlePadding": 3}},
            "color": {"field": "sample", "type": "nominal",
              "legend": {"title": null, "orient": "none", "legendX": 205, "legendY": 500, "direction": "horizontal", "symbolType": "stroke", "symbolStrokeWidth": 3, "symbolSize": 70, "labelFontSize": 15, "labelLimit": 400, "labelColor": "#111111", "columnPadding": 9, "labelOffset": 2}}
          }
        },
        {
          "data": {"values": [{"x": 0}, {"x": 6}]},
          "mark": {"type": "rule", "strokeDash": [4, 3], "strokeWidth": 1.5, "color": "#111111"},
          "encoding": {"x": {"field": "x", "type": "quantitative"}}
        }
      ]
    },
    {
      "width": 444, "height": 178,
      "title": {"text": "CAGCAGG - C2H2 Zinc finger Zic family", "dx": -7},
      "layer": [
        {
          "data": {"name": "cagcagg"},
          "transform": [{"lookup": "k", "from": {"data": {"name": "series"}, "key": "k", "fields": ["sample"]}}],
          "mark": {"type": "line", "clip": true},
          "encoding": {
            "x": {"field": "x", "type": "quantitative", "scale": {"domain": [-125, 125], "nice": false}, "axis": {"title": "Relative position [bp]", "values": [-100, -50, 0, 50, 100], "titlePadding": 1}},
            "y": {"field": "y", "type": "quantitative", "scale": {"domain": [0, 0.01], "nice": false}, "axis": {"title": "Relative cut probability", "values": [0, 0.0025, 0.005, 0.0075, 0.01], "format": ".4f", "titleFontSize": 17, "titlePadding": 3}},
            "color": {"field": "sample", "type": "nominal",
              "legend": {"title": null, "orient": "none", "legendX": 205, "legendY": 500, "direction": "horizontal", "symbolType": "stroke", "symbolStrokeWidth": 3, "symbolSize": 70, "labelFontSize": 15, "labelLimit": 400, "labelColor": "#111111", "columnPadding": 9, "labelOffset": 2}}
          }
        },
        {
          "data": {"values": [{"x": 0}, {"x": 6}]},
          "mark": {"type": "rule", "strokeDash": [4, 3], "strokeWidth": 1.5, "color": "#111111"},
          "encoding": {"x": {"field": "x", "type": "quantitative"}}
        }
      ]
    },
    {
      "width": 437, "height": 178,
      "title": {"text": "CGCATGC - Nrf1"},
      "layer": [
        {
          "data": {"name": "cgcatgc"},
          "transform": [{"lookup": "k", "from": {"data": {"name": "series"}, "key": "k", "fields": ["sample"]}}],
          "mark": {"type": "line", "clip": true},
          "encoding": {
            "x": {"field": "x", "type": "quantitative", "scale": {"domain": [-125, 125], "nice": false}, "axis": {"title": "Relative position [bp]", "values": [-100, -50, 0, 50, 100], "titlePadding": 1}},
            "y": {"field": "y", "type": "quantitative", "scale": {"domain": [0, 0.0125], "nice": false}, "axis": {"title": "Relative cut probability", "values": [0, 0.0025, 0.005, 0.0075, 0.01, 0.0125], "format": ".4f", "titleFontSize": 17, "titlePadding": 3}},
            "color": {"field": "sample", "type": "nominal",
              "legend": {"title": null, "orient": "none", "legendX": 205, "legendY": 500, "direction": "horizontal", "symbolType": "stroke", "symbolStrokeWidth": 3, "symbolSize": 70, "labelFontSize": 15, "labelLimit": 400, "labelColor": "#111111", "columnPadding": 9, "labelOffset": 2}}
          }
        },
        {
          "data": {"values": [{"x": 0}, {"x": 6}]},
          "mark": {"type": "rule", "strokeDash": [4, 3], "strokeWidth": 1.5, "color": "#111111"},
          "encoding": {"x": {"field": "x", "type": "quantitative"}}
        }
      ]
    }
  ]
}
